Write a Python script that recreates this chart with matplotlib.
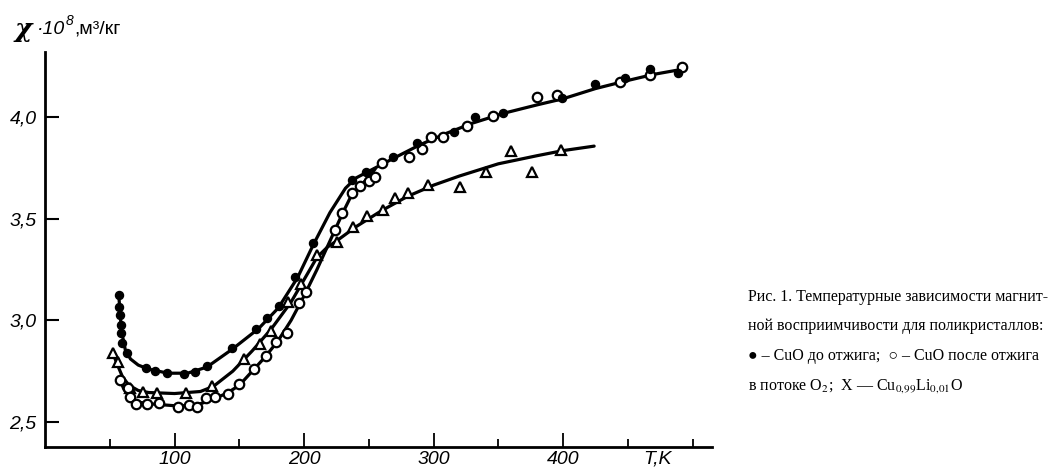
#!/usr/bin/env python3
import numpy as np
import matplotlib
matplotlib.use('Agg')
import matplotlib.pyplot as plt

# --- data (T in K, chi * 10^8 in m^3/kg) ---

# filled circles: CuO before annealing
t_filled = [57, 57.5, 58, 58.5, 59, 59.5, 63, 78, 85, 94, 107, 116, 125, 144, 163,
            171.5, 181, 193, 207, 237, 248, 269, 287, 316, 332, 354, 399, 425,
            448, 467.5, 489]
chi_filled = [3.124, 3.067, 3.026, 2.977, 2.936, 2.887, 2.841, 2.764, 2.752, 2.742,
              2.736, 2.747, 2.777, 2.865, 2.955, 3.012, 3.073, 3.214, 3.379, 3.69,
              3.728, 3.803, 3.872, 3.928, 3.998, 4.018, 4.092, 4.162, 4.19, 4.235,
              4.218]

# open circles: CuO after annealing in O2 flow
t_open = [58, 64, 65.5, 70.5, 79, 88, 103, 111, 117, 124, 131, 141, 150, 161, 170.5,
          178, 186.5, 196, 201.5, 224, 229, 237, 243, 250, 255, 260, 281, 291, 298,
          307, 326, 346, 380, 395, 444, 467.5, 492]
chi_open = [2.706, 2.666, 2.624, 2.588, 2.588, 2.592, 2.575, 2.583, 2.572, 2.616,
            2.621, 2.637, 2.687, 2.759, 2.824, 2.895, 2.936, 3.086, 3.14, 3.446,
            3.53, 3.625, 3.66, 3.687, 3.706, 3.772, 3.803, 3.843, 3.9, 3.9, 3.956,
            4.005, 4.1, 4.108, 4.17, 4.207, 4.244]

# triangles: Cu0.99Li0.01O
t_tri = [52.5, 56, 65.5, 75.5, 86.5, 108.5, 129, 154, 166, 174.5, 188, 198, 210,
         225.5, 238, 248.5, 261, 270.5, 280, 296, 320.5, 340.5, 360, 376, 398.5]
chi_tri = [2.838, 2.796, 2.666, 2.649, 2.641, 2.641, 2.677, 2.81, 2.883, 2.949,
           3.092, 3.18, 3.321, 3.383, 3.461, 3.514, 3.545, 3.603, 3.628, 3.667,
           3.654, 3.731, 3.834, 3.731, 3.838]

# hand-drawn smoothing curves through each set
t_curve_filled = [57, 59, 62, 66, 72, 80, 95, 110, 125, 145, 165, 180, 195, 207, 220,
                  232, 240, 255, 270, 290, 310, 330, 355, 380, 400, 425, 450, 470, 492]
chi_curve_filled = [3.12, 2.95, 2.855, 2.81, 2.78, 2.76, 2.74, 2.74, 2.77, 2.86, 2.96,
                    3.06, 3.21, 3.37, 3.53, 3.65, 3.70, 3.75, 3.80, 3.865, 3.92, 3.97,
                    4.02, 4.06, 4.09, 4.14, 4.18, 4.21, 4.235]

t_curve_open = [57, 61, 66, 72, 80, 100, 115, 125, 140, 150, 160, 170, 180, 190, 200,
                210, 220, 230, 237, 245, 255]
chi_curve_open = [2.72, 2.66, 2.62, 2.598, 2.59, 2.58, 2.58, 2.60, 2.64, 2.68, 2.75,
                  2.82, 2.90, 3.00, 3.12, 3.25, 3.39, 3.53, 3.62, 3.67, 3.745]

t_curve_tri = [52, 56, 60, 65, 72, 80, 100, 120, 130, 145, 160, 175, 190, 200, 210,
               218, 225, 240, 260, 280, 300, 320, 350, 380, 400, 424]
chi_curve_tri = [2.845, 2.78, 2.72, 2.68, 2.655, 2.645, 2.64, 2.65, 2.675, 2.75, 2.85,
                 2.96, 3.09, 3.20, 3.31, 3.36, 3.39, 3.46, 3.54, 3.61, 3.665, 3.71,
                 3.77, 3.81, 3.835, 3.857]

x_major = [100, 200, 300, 400]
x_minor = [50, 150, 250, 350, 450, 500]
x_labels = ['100', '200', '300', '400']
y_ticks = [2.5, 3.0, 3.5, 4.0]
y_labels = ['2,5', '3,0', '3,5', '4,0']

caption = [
    'Рис. 1. Температурные зависимости магнит-',
    'ной восприимчивости для поликристаллов:',
    '● – CuO до отжига;  ○ – CuO после отжига',
    r'в потоке O$_2$;  X — Cu$_{0{,}99}$Li$_{0{,}01}$O',
]

plt.rcParams['mathtext.fontset'] = 'stix'
tick_font = ['Liberation Sans', 'DejaVu Sans']


def main():
    fig = plt.figure(figsize=(10.55, 4.72), dpi=100)
    W, H = 1055, 472
    left, right, bottom, top = 45, 712, 447, 52
    ax = fig.add_axes([left / W, 1 - bottom / H, (right - left) / W, (bottom - top) / H])

    for t, c in [(t_curve_filled, chi_curve_filled), (t_curve_open, chi_curve_open),
                 (t_curve_tri, chi_curve_tri)]:
        ax.plot(t, c, color='black', lw=2.3, solid_capstyle='round', zorder=2)

    ax.plot(t_tri, chi_tri, ls='none', marker='^', ms=7.5, mfc='white', mec='black',
            mew=1.6, zorder=3)
    ax.plot(t_open, chi_open, ls='none', marker='o', ms=6.8, mfc='white', mec='black',
            mew=1.6, zorder=4)
    ax.plot(t_filled, chi_filled, ls='none', marker='o', ms=5.8, mfc='black', mec='black',
            zorder=5)

    ax.set_xlim(0, 515)
    ax.set_ylim(2.377, 4.32)
    for s in ['top', 'right']:
        ax.spines[s].set_visible(False)
    for s in ['left', 'bottom']:
        ax.spines[s].set_linewidth(2.0)

    ax.set_xticks(x_major)
    ax.set_xticks(x_minor, minor=True)
    ax.set_xticklabels(x_labels)
    ax.set_yticks(y_ticks)
    ax.set_yticklabels(y_labels)
    ax.tick_params(axis='x', which='major', direction='in', length=10, width=1.3, pad=3)
    ax.tick_params(axis='x', which='minor', direction='in', length=6, width=1.3)
    ax.tick_params(axis='y', direction='in', length=10, width=1.5, pad=6)
    for lab in ax.get_xticklabels() + ax.get_yticklabels():
        lab.set_family(tick_font)
        lab.set_style('italic')
        lab.set_fontsize(14)

    ax.text(473, -0.01, 'T,K', transform=ax.get_xaxis_transform(), ha='center',
            va='top', family=tick_font, style='italic', fontsize=14)

    # y-axis title at top-left
    fig.text(15 / W, 1 - 29 / H, 'χ', family='DejaVu Serif', style='italic',
             weight='bold', fontsize=19, va='center')
    fig.text(37 / W, 1 - 29 / H, '·10', family=tick_font, style='italic',
             fontsize=14, va='center')
    fig.text(66 / W, 1 - 21 / H, '8', family=tick_font, style='italic',
             fontsize=10, va='center')
    fig.text(74 / W, 1 - 29 / H, ',м³/кг', family=tick_font, fontsize=14, va='center')

    ys = [297, 326, 356, 386]
    for line, y in zip(caption, ys):
        fig.text(748 / W, 1 - y / H, line, family='Liberation Serif', fontsize=11.5,
                 va='center')

    fig.savefig('out.png', dpi=100)


if __name__ == '__main__':
    main()
